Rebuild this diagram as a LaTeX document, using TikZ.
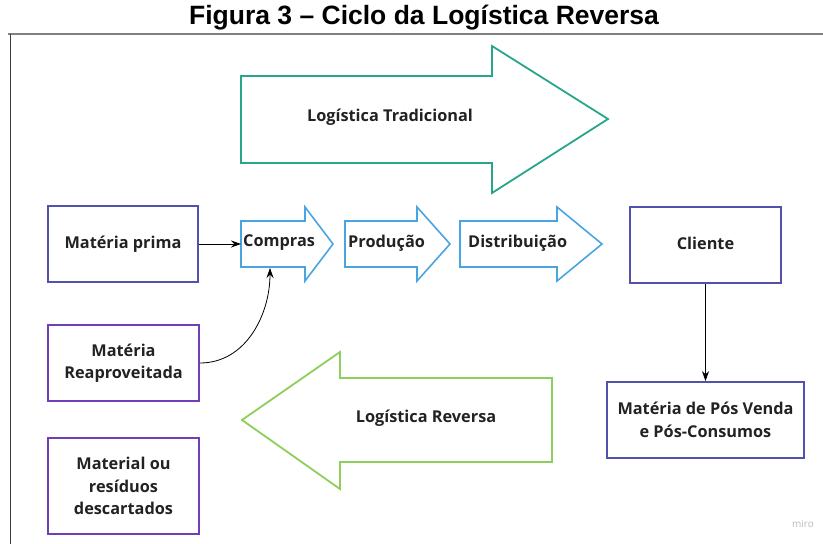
\documentclass[tikz,border=0pt]{standalone}
\usepackage{fontspec}
\setmainfont{Open Sans}
\newfontfamily\arialf{Liberation Sans}
\usetikzlibrary{arrows.meta}
\definecolor{tealc}{RGB}{38,166,138}
\definecolor{bluec}{RGB}{72,165,225}
\definecolor{indigoc}{RGB}{82,82,172}
\definecolor{purplec}{RGB}{112,62,182}
\definecolor{greenc}{RGB}{142,206,92}
\definecolor{txt}{RGB}{34,34,34}
\tikzset{
  lbl/.style={font=\fontsize{16.3}{22.5}\selectfont\bfseries, text=txt, align=center, inner sep=0pt},
  boxa/.style={draw=indigoc, line width=1.8pt, minimum width=150, minimum height=76, lbl},
  boxb/.style={draw=purplec, line width=1.8pt, minimum width=151, lbl},
  bigarrow/.style={line width=1.8pt, line join=miter},
  conn/.style={draw=black, line width=0.8pt, -{Stealth[length=10pt,width=7pt]}}
}
\begin{document}
\begin{tikzpicture}[x=1pt,y=-1pt]
\useasboundingbox (0,0) rectangle (823,544);
% title and frame
\node[font=\arialf\fontsize{26.5}{30}\selectfont\bfseries, inner sep=0pt] (title) at (424,18) {Figura 3 – Ciclo da Logística Reversa};
\draw[color={rgb,255:red,128;green,128;blue,128}, line width=1.5pt] (8,34) -- (823,34);
\draw[color={rgb,255:red,60;green,60;blue,60}, line width=1pt] (10,34) -- (10,544);
% big teal arrow
\draw[bigarrow, draw=tealc] (241,76) -- (492,76) -- (492,46) -- (608,119) -- (492,193) -- (492,163) -- (241,163) -- cycle;
\node[lbl] (trad) at (390,117) {Logística Tradicional};
% small blue arrows
\draw[bigarrow, draw=bluec, line width=1.6pt] (241,221) -- (305,221) -- (305,207) -- (333,244) -- (305,281) -- (305,267) -- (241,267) -- cycle;
\node[lbl, anchor=west] (compras) at (243,243) {Compras};
\draw[bigarrow, draw=bluec, line width=1.6pt] (345,221) -- (417,221) -- (417,207) -- (450,244) -- (417,281) -- (417,267) -- (345,267) -- cycle;
\node[lbl, anchor=west] (producao) at (348,243) {Produção};
\draw[bigarrow, draw=bluec, line width=1.6pt] (460,221) -- (557,221) -- (557,207) -- (602,244) -- (557,281) -- (557,267) -- (460,267) -- cycle;
\node[lbl, anchor=west] (distrib) at (468,243) {Distribuição};
\coordinate (comprasW) at (241,244);
\coordinate (comprasS) at (270,268);
% boxes
\node[boxa] (mp) at (123,244) {Matéria prima};
\node[boxa, minimum width=151] (cliente) at (705.5,245) {};
\node[lbl] (clientetxt) at (705.5,243) {Cliente};
\node[boxa, minimum width=197] (pos) at (705.5,420) {Matéria de Pós Venda\\e Pós-Consumos};
\node[boxb, minimum height=76] (reap) at (123.5,363) {Matéria\\Reaproveitada};
\node[boxb, minimum height=96] (desc) at (123.5,486) {Material ou\\resíduos\\descartados};
% green arrow
\draw[bigarrow, draw=greenc] (552,378) -- (340,378) -- (340,352) -- (242,420) -- (340,489) -- (340,462) -- (552,462) -- cycle;
\node[lbl] (rev) at (426,418) {Logística Reversa};
% connectors
\draw[conn] (mp.east) -- (comprasW);
\draw[conn] (reap.east) to[out=0, in=-90] (comprasS);
\draw[conn] (cliente.south) -- (pos.north);
% watermark
\node[font=\fontsize{10}{11}\selectfont, text={rgb,255:red,185;green,185;blue,185}, inner sep=0pt] (miro) at (803,524) {miro};
\end{tikzpicture}
\end{document}
